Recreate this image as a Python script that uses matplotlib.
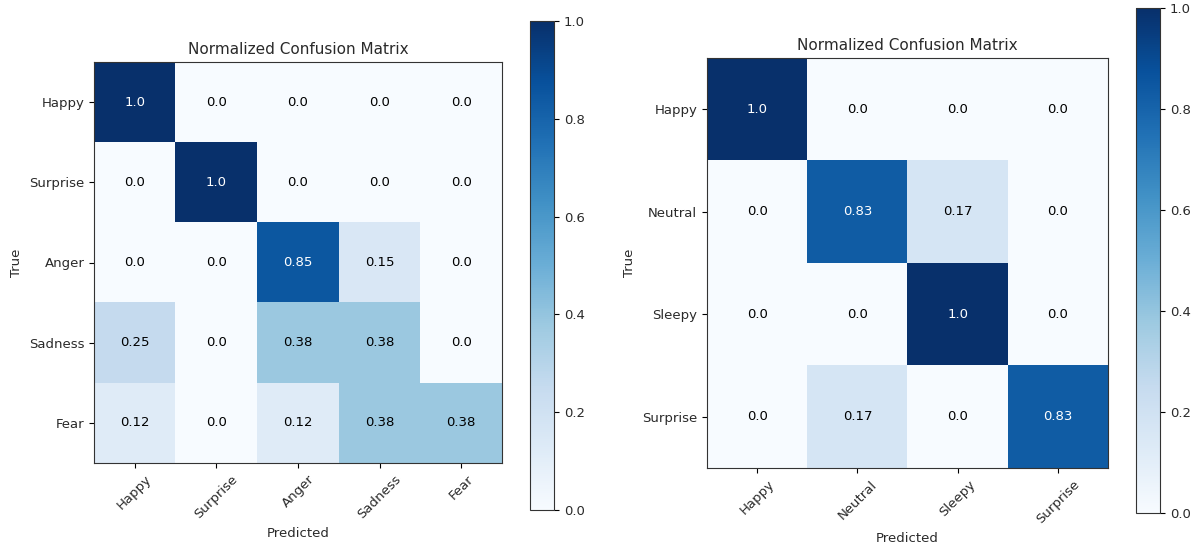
import matplotlib
matplotlib.use("Agg")
import matplotlib.pyplot as plt
import numpy as np

# Normalized confusion matrices for the two emotion classifiers
labels_a = ["Happy", "Surprise", "Anger", "Sadness", "Fear"]
cm_a = [
    [1.0, 0.0, 0.0, 0.0, 0.0],
    [0.0, 1.0, 0.0, 0.0, 0.0],
    [0.0, 0.0, 0.85, 0.15, 0.0],
    [0.25, 0.0, 0.38, 0.38, 0.0],
    [0.12, 0.0, 0.12, 0.38, 0.38],
]

labels_b = ["Happy", "Neutral", "Sleepy", "Surprise"]
cm_b = [
    [1.0, 0.0, 0.0, 0.0],
    [0.0, 0.83, 0.17, 0.0],
    [0.0, 0.0, 1.0, 0.0],
    [0.0, 0.17, 0.0, 0.83],
]

cbar_ticks = [0.0, 0.2, 0.4, 0.6, 0.8, 1.0]

W, H = 1194, 548
fig = plt.figure(figsize=(W / 100, H / 100), dpi=100)


def frac(x0, y0, x1, y1):
    return [x0 / W, 1 - y1 / H, (x1 - x0) / W, (y1 - y0) / H]


def draw_cm(ax, cax, cm, labels):
    cm = np.array(cm)
    im = ax.imshow(cm, cmap="Blues", vmin=0, vmax=1, aspect="auto",
                   interpolation="nearest")
    ax.set_title("Normalized Confusion Matrix", fontsize=11, color="#2a2a2a")
    ticks = np.arange(len(labels))
    ax.set_xticks(ticks)
    ax.set_yticks(ticks)
    ax.set_xticklabels(labels, rotation=45, fontsize=9.5, color="#2a2a2a")
    ax.set_yticklabels(labels, fontsize=9.5, color="#2a2a2a")
    thresh = cm.max() / 2.0
    for i in range(cm.shape[0]):
        for j in range(cm.shape[1]):
            ax.text(j, i, str(cm[i, j]), ha="center", va="center",
                    fontsize=9.5,
                    color="white" if cm[i, j] > thresh else "black")
    ax.set_ylabel("True", fontsize=9.5, color="#2a2a2a")
    ax.set_xlabel("Predicted", fontsize=9.5, color="#2a2a2a")
    for s in ax.spines.values():
        s.set_color("#333333")
    cb = fig.colorbar(im, cax=cax, ticks=cbar_ticks)
    cb.ax.tick_params(labelsize=9.5, labelcolor="#2a2a2a")
    cb.outline.set_edgecolor("#333333")


ax1 = fig.add_axes(frac(94, 62, 502, 463))
cax1 = fig.add_axes(frac(530, 21, 554, 510))
draw_cm(ax1, cax1, cm_a, labels_a)

ax2 = fig.add_axes(frac(707, 58, 1108, 468))
cax2 = fig.add_axes(frac(1136, 8, 1160, 513))
draw_cm(ax2, cax2, cm_b, labels_b)

fig.savefig("out.png", dpi=100)
